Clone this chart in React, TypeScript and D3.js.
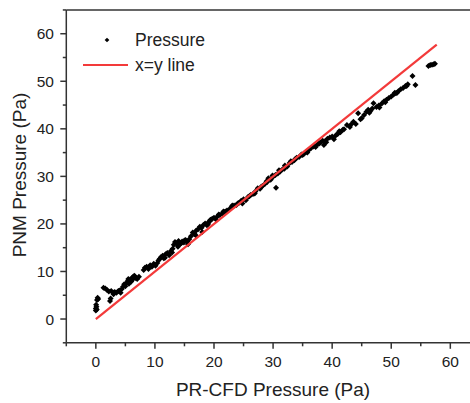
import React from "react";
import * as d3 from "d3";

const cfd: number[] = [
  0, 0, 0.1, 0.05, 0.2, 0.3, 0.4, 0.15,
  1.3, 1.6, 1.9, 2.2, 2.4, 2.5, 2.6, 2.9, 3.2, 3.5, 3.8,
  4.2, 4.4, 4.6, 4.8, 5.0, 5.2, 5.4, 5.6, 5.8, 6.0, 6.2, 6.4, 6.6, 6.8, 7.0,
  8.1, 8.3, 8.6, 8.9, 9.2, 9.5, 9.8, 10.1, 10.4,
  10.8, 11.0, 11.3, 11.5, 11.8, 12.1, 12.4, 12.7, 13.0,
  13.2, 13.4, 13.7, 14.0, 14.3, 14.6, 14.9, 15.2, 15.5, 15.8, 16.1,
  16.4, 16.7, 17.0, 17.3, 17.6, 17.9, 18.2, 18.5, 18.8, 19.1, 19.4, 19.7, 20.0, 20.3,
  20.6, 21.0, 21.4, 21.8, 22.2, 22.6, 23.0, 23.4, 23.8, 24.2, 24.6, 25.0,
  25.4, 25.8, 26.2, 26.6, 27.0, 27.4, 27.8, 28.2, 28.6, 29.0, 29.2, 29.6, 30.0, 30.5,
  30.4, 30.8, 31.2, 31.6, 32.0, 32.4, 32.8, 33.2, 33.6, 34.0, 34.4, 34.8, 35.2,
  35.6, 36.0, 36.4, 36.8, 37.2, 37.6, 38.0, 38.4, 38.8, 39.2, 39.6, 40.0,
  40.3, 40.6, 41.0, 41.4, 41.8, 42.5, 43.0, 43.6, 44.0, 44.4, 45.0,
  45.4, 45.8, 46.1, 46.5, 47.0, 47.5, 47.9, 48.4, 48.8, 49.2, 49.6, 50.0,
  50.4, 50.8, 51.2, 51.6, 52.0, 52.4, 52.8, 53.6, 54.1,
  56.3, 56.6, 56.9, 57.2, 57.4,
  14.5, 15.0, 19.0, 22.0, 24.0, 26.0, 28.0, 31.0, 33.0, 35.0, 37.0, 39.0, 41.2, 43.2, 46.8, 48.0, 51.0,
  3.0, 4.0, 5.5, 6.5, 7.3, 9.0, 10.6, 11.7, 12.9, 13.9, 15.6, 16.9, 18.0, 19.3, 20.8, 21.6, 23.1,
  24.8, 26.9, 28.9, 29.9, 31.9, 33.8, 35.8, 37.8, 38.6, 40.9, 42.0, 44.8, 46.3, 49.0, 50.6, 52.6
];

const pnm: number[] = [
  1.8, 2.2, 2.6, 3.0, 4.0, 4.5, 4.2, 2.0,
  6.6, 6.4, 6.1, 5.8, 3.8, 4.3, 5.9, 5.6, 5.7, 5.5, 5.9,
  5.5, 6.3, 6.8, 7.3, 6.9, 7.6, 8.0, 7.4, 8.3, 7.9, 8.8, 8.5, 9.0, 8.6, 8.4,
  10.3, 10.8, 11.0, 10.5, 11.3, 11.0, 11.6, 11.2, 11.8,
  12.6, 13.0, 13.3, 12.8, 13.6, 13.9, 13.4, 14.3, 14.8,
  15.6, 16.2, 15.9, 16.4, 15.8, 16.3, 16.1, 16.6, 16.3, 16.8, 17.4,
  18.2, 17.9, 18.6, 18.9, 19.4, 19.2, 19.8, 20.1, 19.7, 20.4, 20.9, 21.1, 21.3, 21.0,
  21.6, 21.9, 22.2, 22.5, 22.8, 23.1, 23.6, 23.9, 24.0, 24.4, 24.9, 25.2,
  25.0, 25.7, 26.1, 26.3, 26.8, 27.5, 27.4, 28.0, 28.4, 28.8, 29.6, 29.3, 29.9, 27.6,
  30.3, 30.6, 31.0, 31.5, 32.3, 32.1, 32.8, 33.0, 33.4, 33.9, 34.1, 34.6, 34.7,
  35.2, 35.5, 35.9, 36.3, 36.2, 36.8, 37.1, 37.5, 37.4, 37.9, 38.2, 38.4,
  37.8, 38.6, 39.0, 39.3, 39.8, 40.8, 40.4, 41.5, 41.0, 43.3, 42.2,
  42.9, 43.6, 44.0, 43.8, 45.4, 44.6, 44.9, 45.3, 45.8, 46.1, 46.5, 46.8,
  47.2, 47.5, 47.9, 48.3, 48.6, 49.0, 49.4, 51.1, 49.2,
  53.2, 53.4, 53.5, 53.6, 53.7,
  16.0, 16.5, 20.0, 22.6, 24.3, 25.8, 27.8, 31.3, 33.2, 34.5, 36.5, 37.2, 39.5, 40.9, 44.3, 44.5, 47.6,
  5.2, 6.0, 8.4, 9.1, 8.9, 10.9, 12.3, 12.9, 14.0, 15.2, 15.7, 17.6, 18.3, 20.6, 22.0, 22.6, 23.9,
  24.3, 26.4, 29.0, 30.2, 31.6, 33.7, 35.0, 36.9, 36.6, 38.9, 39.9, 42.0, 43.4, 45.6, 47.6, 49.0
];

const lineX: number[] = [0, 57.7];
const xTicks: number[] = [0, 10, 20, 30, 40, 50, 60];
const yTicks: number[] = [0, 10, 20, 30, 40, 50, 60];
const minorTicks: number[] = [-5, 5, 15, 25, 35, 45, 55, 65];

const W = 470;
const H = 403;
const FONT = "Liberation Sans, Arial, sans-serif";
const AXIS = "#333";

export default function App() {
  const x = d3.scaleLinear().domain([-5, 65]).range([66.3, 66.3 + 70 * 5.908]);
  const y = d3.scaleLinear().domain([-5, 65]).range([342.8, 342.8 - 70 * 4.755]);
  const sym = d3.symbol(d3.symbolSquare, 18)();
  const legSym = d3.symbol(d3.symbolSquare, 11)();
  const line = d3
    .line<number>()
    .x((d) => x(d))
    .y((d) => y(d));
  const x0 = x(-5);
  const x1 = x(65);
  const yb = y(-5);
  const yt = y(65);

  return (
    <svg
      width={W}
      height={H}
      style={{ position: "absolute", left: 0, top: 0, background: "#fff" }}
      fontFamily={FONT}
    >
      <rect width={W} height={H} fill="#fff" />
      {/* points */}
      <g>
        {cfd.map((cx, i) => (
          <path
            key={i}
            d={sym as string}
            transform={`translate(${x(cx)},${y(pnm[i])}) rotate(45)`}
            fill="#000"
          />
        ))}
      </g>
      {/* x=y line */}
      <path d={line(lineX) as string} stroke="#f33a3a" strokeWidth={2.2} fill="none" />
      {/* frame */}
      <line x1={x0} x2={x1} y1={yt} y2={yt} stroke={AXIS} strokeWidth={1.5} />
      <line x1={x1} x2={x1} y1={yt} y2={yb} stroke={AXIS} strokeWidth={1.5} />
      <line x1={x0} x2={x1} y1={yb} y2={yb} stroke={AXIS} strokeWidth={1.5} />
      <line x1={x0} x2={x0} y1={yt} y2={yb} stroke={AXIS} strokeWidth={1.5} />
      {/* x ticks */}
      {xTicks.map((t) => (
        <g key={"xt" + t}>
          <line x1={x(t)} x2={x(t)} y1={yb} y2={yb + 6} stroke={AXIS} strokeWidth={1.5} />
          <text x={x(t)} y={367} textAnchor="middle" fontSize={15.5} fill="#222">
            {t}
          </text>
        </g>
      ))}
      {minorTicks.map((t) => (
        <line key={"xm" + t} x1={x(t)} x2={x(t)} y1={yb} y2={yb + 3.5} stroke={AXIS} strokeWidth={1.5} />
      ))}
      {/* y ticks */}
      {yTicks.map((t) => (
        <g key={"yt" + t}>
          <line x1={x0 - 6} x2={x0} y1={y(t)} y2={y(t)} stroke={AXIS} strokeWidth={1.5} />
          <text x={54} y={y(t) + 5.5} textAnchor="end" fontSize={15.5} fill="#222">
            {t}
          </text>
        </g>
      ))}
      {minorTicks.map((t) => (
        <line key={"ym" + t} x1={x0 - 3.5} x2={x0} y1={y(t)} y2={y(t)} stroke={AXIS} strokeWidth={1.5} />
      ))}
      {/* axis titles */}
      <text x={273} y={396} textAnchor="middle" fontSize={19} fill="#222">
        PR-CFD Pressure (Pa)
      </text>
      <text
        transform={`translate(26,175) rotate(-90)`}
        textAnchor="middle"
        fontSize={19}
        fill="#222"
      >
        PNM Pressure (Pa)
      </text>
      {/* legend */}
      <path d={legSym as string} transform="translate(107,40) rotate(45)" fill="#000" />
      <text x={135} y={46} fontSize={17.5} fill="#222">
        Pressure
      </text>
      <line x1={83} x2={128} y1={65} y2={65} stroke="#f33a3a" strokeWidth={2.2} />
      <text x={135} y={71} fontSize={17.5} fill="#222">
        x=y line
      </text>
    </svg>
  );
}
